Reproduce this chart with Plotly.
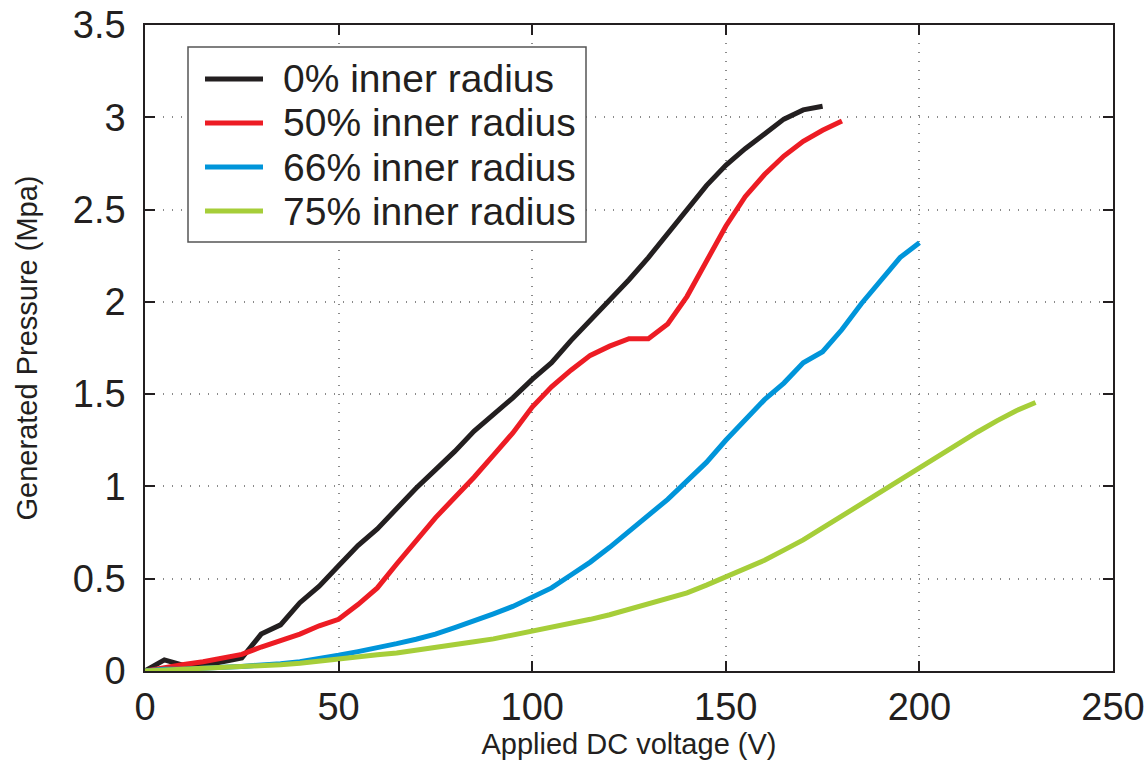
import plotly.graph_objects as go

# Applied voltage (V) for each series
v_0 = list(range(0, 180, 5))
v_50 = list(range(0, 185, 5))
v_66 = list(range(0, 205, 5))
v_75 = list(range(0, 235, 5))

# Generated pressure (MPa)
p_0 = [0.0, 0.06, 0.03, 0.03, 0.05, 0.07, 0.2, 0.25, 0.37, 0.46, 0.57, 0.68,
       0.77, 0.88, 0.99, 1.09, 1.19, 1.3, 1.39, 1.48, 1.58, 1.67, 1.79, 1.9,
       2.01, 2.12, 2.24, 2.37, 2.5, 2.63, 2.74, 2.83, 2.91, 2.99, 3.04, 3.06]
p_50 = [0.0, 0.02, 0.035, 0.05, 0.07, 0.09, 0.13, 0.165, 0.2, 0.245, 0.28,
        0.36, 0.45, 0.58, 0.71, 0.83, 0.94, 1.05, 1.17, 1.29, 1.43, 1.54, 1.63,
        1.71, 1.76, 1.8, 1.8, 1.88, 2.03, 2.22, 2.41, 2.57, 2.69, 2.79, 2.87,
        2.93, 2.98]
p_66 = [0.0, 0.01, 0.01, 0.012, 0.02, 0.025, 0.03, 0.04, 0.05, 0.065, 0.085,
        0.105, 0.125, 0.148, 0.172, 0.2, 0.235, 0.27, 0.31, 0.35, 0.4, 0.45,
        0.52, 0.59, 0.67, 0.755, 0.84, 0.93, 1.03, 1.13, 1.25, 1.36, 1.47,
        1.56, 1.67, 1.73, 1.85, 1.99, 2.12, 2.24, 2.32]
p_75 = [0.0, 0.005, 0.008, 0.01, 0.015, 0.02, 0.027, 0.034, 0.042, 0.055,
        0.067, 0.075, 0.088, 0.098, 0.112, 0.124, 0.142, 0.158, 0.174, 0.195,
        0.212, 0.232, 0.255, 0.28, 0.305, 0.335, 0.365, 0.393, 0.423, 0.465,
        0.51, 0.55, 0.6, 0.655, 0.71, 0.775, 0.84, 0.905, 0.975, 1.04, 1.105,
        1.17, 1.23, 1.295, 1.355, 1.41, 1.455]

labels = ["0% inner radius", "50% inner radius", "66% inner radius", "75% inner radius"]
colors = ["#231f20", "#ed1c24", "#0095da", "#a6ce39"]

W, H = 1148, 760
ML, MR, MT, MB = 145, 35, 25, 89
PW, PH = W - ML - MR, H - MT - MB
FONT = "Liberation Sans, Arial, Helvetica"
INK = "#231f20"


def px(x):
    """Horizontal pixel -> paper fraction."""
    return (x - ML) / PW


def py(y):
    """Vertical pixel (from top) -> paper fraction."""
    return (H - MB - y) / PH


fig = go.Figure()
for x, y, name, c in zip([v_0, v_50, v_66, v_75], [p_0, p_50, p_66, p_75], labels, colors):
    fig.add_trace(go.Scatter(x=x, y=y, mode="lines", name=name,
                             line=dict(color=c, width=5), showlegend=False))

axis_common = dict(
    showline=True, linecolor=INK, linewidth=1.5, mirror="ticks",
    ticks="inside", ticklen=10, tickwidth=1.5, tickcolor=INK,
    showgrid=True, gridcolor="#8a8a8a", griddash="1px,8px", gridwidth=1.5,
    zeroline=False, automargin=False,
    tickfont=dict(family=FONT, size=38, color=INK),
    title_font=dict(family=FONT, size=29, color=INK),
)

fig.update_xaxes(range=[0, 250], dtick=50, title_text="Applied DC voltage (V)",
                 title_standoff=13, ticklabelstandoff=2, **axis_common)
fig.update_yaxes(range=[0, 3.5], dtick=0.5, title_text="Generated Pressure (Mpa)",
                 title_standoff=27, ticklabelstandoff=10, **axis_common)

# Legend box: framed panel in the upper-left corner of the plot
box_l, box_r, box_t, box_b = 188, 586, 47, 242
row_y = [79, 123, 167, 211]
shapes = [dict(type="rect", xref="paper", yref="paper",
               x0=px(box_l), x1=px(box_r), y0=py(box_b), y1=py(box_t),
               line=dict(color="#555555", width=1.5), fillcolor="white", layer="above")]
annotations = []
for name, c, ry in zip(labels, colors, row_y):
    shapes.append(dict(type="line", xref="paper", yref="paper",
                       x0=px(205), x1=px(263), y0=py(ry), y1=py(ry),
                       line=dict(color=c, width=5), layer="above"))
    annotations.append(dict(xref="paper", yref="paper", x=px(281), y=py(ry),
                            xanchor="left", yanchor="middle", showarrow=False,
                            text=name, font=dict(family=FONT, size=39, color=INK)))

fig.update_layout(
    width=W, height=H,
    margin=dict(l=ML, r=MR, t=MT, b=MB),
    paper_bgcolor="white", plot_bgcolor="white",
    font=dict(family=FONT, color=INK),
    showlegend=False,
    shapes=shapes, annotations=annotations,
)

fig.write_html("out.html")
